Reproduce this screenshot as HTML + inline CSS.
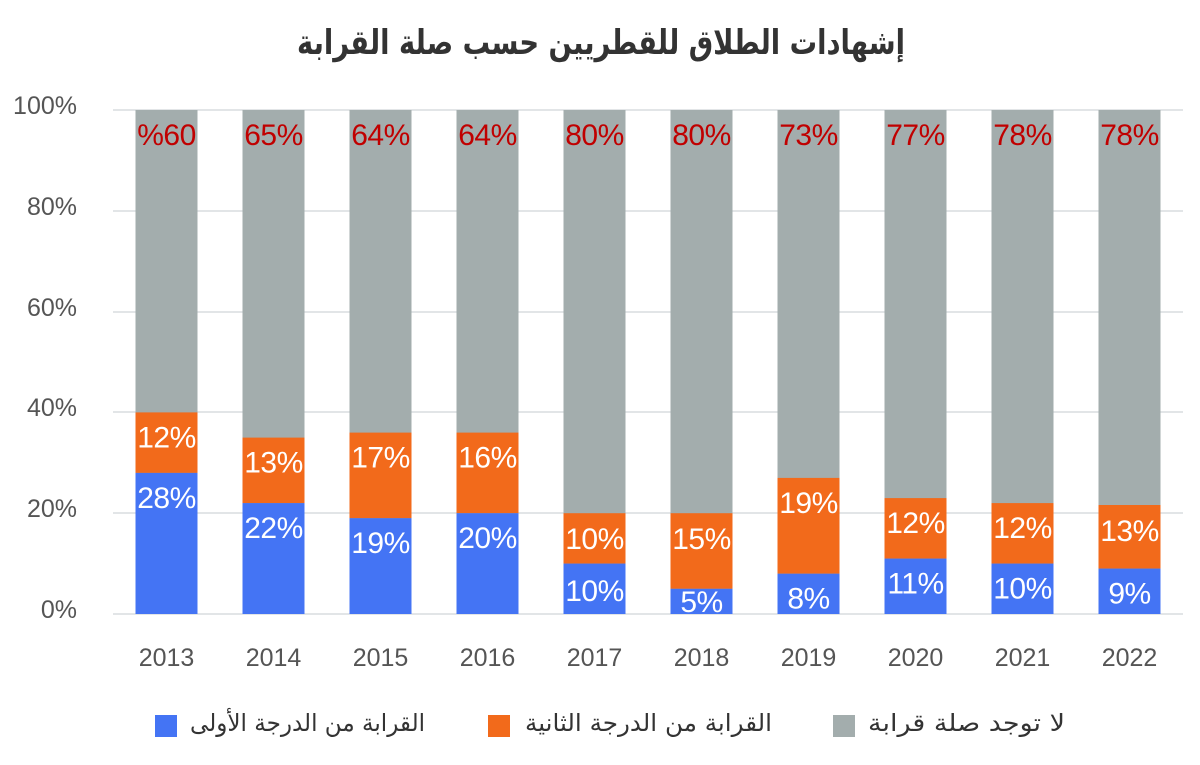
<!DOCTYPE html>
<html>
<head>
<meta charset="utf-8">
<style>
  html,body{margin:0;padding:0;background:#fff;}
  svg{display:block;}
  .ax{font-family:"Liberation Sans",sans-serif;font-size:25px;fill:#555555;}
  .lbw{font-family:"Liberation Sans",sans-serif;font-size:30px;fill:#ffffff;text-anchor:middle;letter-spacing:-0.5px;}
  .lbr{font-family:"Liberation Sans",sans-serif;font-size:30px;fill:#c00000;text-anchor:middle;letter-spacing:-0.5px;}
  .ar{font-family:"DejaVu Sans",sans-serif;fill:#333;}
</style>
</head>
<body>
<svg width="1200" height="765" viewBox="0 0 1200 765" xmlns="http://www.w3.org/2000/svg">
  <rect width="1200" height="765" fill="#fff"/>
  <text class="ar" x="601" y="54" font-size="34" font-weight="bold" text-anchor="middle" direction="rtl" textLength="608" lengthAdjust="spacingAndGlyphs">إشهادات الطلاق للقطريين حسب صلة القرابة</text>

  <g stroke="#e2e5e7" stroke-width="2">
    <line x1="113" y1="110" x2="1183" y2="110"/>
    <line x1="113" y1="211" x2="1183" y2="211"/>
    <line x1="113" y1="312" x2="1183" y2="312"/>
    <line x1="113" y1="412" x2="1183" y2="412"/>
    <line x1="113" y1="513" x2="1183" y2="513"/>
    <line x1="113" y1="614" x2="1183" y2="614"/>
  </g>

  <g class="ax" text-anchor="end">
    <text x="77" y="114">100%</text>
    <text x="77" y="215">80%</text>
    <text x="77" y="316">60%</text>
    <text x="77" y="416">40%</text>
    <text x="77" y="517">20%</text>
    <text x="77" y="618">0%</text>
  </g>

  <g>
    <rect x="135.5" y="110" width="62" height="504" fill="#a3adad"/>
    <rect x="135.5" y="412.4" width="62" height="60.5" fill="#f26a1b"/>
    <rect x="135.5" y="472.9" width="62" height="141.1" fill="#4474f4"/>
    <rect x="242.5" y="110" width="62" height="504" fill="#a3adad"/>
    <rect x="242.5" y="437.6" width="62" height="65.5" fill="#f26a1b"/>
    <rect x="242.5" y="503.1" width="62" height="110.9" fill="#4474f4"/>
    <rect x="349.5" y="110" width="62" height="504" fill="#a3adad"/>
    <rect x="349.5" y="432.6" width="62" height="85.6" fill="#f26a1b"/>
    <rect x="349.5" y="518.2" width="62" height="95.8" fill="#4474f4"/>
    <rect x="456.5" y="110" width="62" height="504" fill="#a3adad"/>
    <rect x="456.5" y="432.6" width="62" height="80.6" fill="#f26a1b"/>
    <rect x="456.5" y="513.2" width="62" height="100.8" fill="#4474f4"/>
    <rect x="563.5" y="110" width="62" height="504" fill="#a3adad"/>
    <rect x="563.5" y="513.2" width="62" height="50.4" fill="#f26a1b"/>
    <rect x="563.5" y="563.6" width="62" height="50.4" fill="#4474f4"/>
    <rect x="670.5" y="110" width="62" height="504" fill="#a3adad"/>
    <rect x="670.5" y="513.2" width="62" height="75.6" fill="#f26a1b"/>
    <rect x="670.5" y="588.8" width="62" height="25.2" fill="#4474f4"/>
    <rect x="777.5" y="110" width="62" height="504" fill="#a3adad"/>
    <rect x="777.5" y="477.9" width="62" height="95.8" fill="#f26a1b"/>
    <rect x="777.5" y="573.7" width="62" height="40.3" fill="#4474f4"/>
    <rect x="884.5" y="110" width="62" height="504" fill="#a3adad"/>
    <rect x="884.5" y="498.1" width="62" height="60.5" fill="#f26a1b"/>
    <rect x="884.5" y="558.6" width="62" height="55.4" fill="#4474f4"/>
    <rect x="991.5" y="110" width="62" height="504" fill="#a3adad"/>
    <rect x="991.5" y="503.1" width="62" height="60.5" fill="#f26a1b"/>
    <rect x="991.5" y="563.6" width="62" height="50.4" fill="#4474f4"/>
    <rect x="1098.5" y="110" width="62" height="504" fill="#a3adad"/>
    <rect x="1098.5" y="505" width="62" height="63.6" fill="#f26a1b"/>
    <rect x="1098.5" y="568.6" width="62" height="45.4" fill="#4474f4"/>
  </g>

  <g class="lbr">
    <text x="166.5" y="145">%60</text>
    <text x="273.5" y="145">65%</text>
    <text x="380.5" y="145">64%</text>
    <text x="487.5" y="145">64%</text>
    <text x="594.5" y="145">80%</text>
    <text x="701.5" y="145">80%</text>
    <text x="808.5" y="145">73%</text>
    <text x="915.5" y="145">77%</text>
    <text x="1022.5" y="145">78%</text>
    <text x="1129.5" y="145">78%</text>
  </g>

  <g class="lbw">
    <text x="166.5" y="447.4">12%</text>
    <text x="166.5" y="507.9">28%</text>
    <text x="273.5" y="472.6">13%</text>
    <text x="273.5" y="538.1">22%</text>
    <text x="380.5" y="467.6">17%</text>
    <text x="380.5" y="553.2">19%</text>
    <text x="487.5" y="467.6">16%</text>
    <text x="487.5" y="548.2">20%</text>
    <text x="594.5" y="549">10%</text>
    <text x="594.5" y="601">10%</text>
    <text x="701.5" y="549">15%</text>
    <text x="701.5" y="612">5%</text>
    <text x="808.5" y="512.9">19%</text>
    <text x="808.5" y="608.7">8%</text>
    <text x="915.5" y="533.1">12%</text>
    <text x="915.5" y="593.6">11%</text>
    <text x="1022.5" y="538.1">12%</text>
    <text x="1022.5" y="598.6">10%</text>
    <text x="1129.5" y="541">13%</text>
    <text x="1129.5" y="603.6">9%</text>
  </g>

  <g class="ax" text-anchor="middle">
    <text x="166.5" y="666">2013</text>
    <text x="273.5" y="666">2014</text>
    <text x="380.5" y="666">2015</text>
    <text x="487.5" y="666">2016</text>
    <text x="594.5" y="666">2017</text>
    <text x="701.5" y="666">2018</text>
    <text x="808.5" y="666">2019</text>
    <text x="915.5" y="666">2020</text>
    <text x="1022.5" y="666">2021</text>
    <text x="1129.5" y="666">2022</text>
  </g>

  <rect x="155" y="715" width="22" height="22" fill="#4474f4"/>
  <text class="ar" x="307.5" y="731" font-size="24" text-anchor="middle" direction="rtl" textLength="235" lengthAdjust="spacingAndGlyphs">القرابة من الدرجة الأولى</text>
  <rect x="488" y="715" width="22" height="22" fill="#f26a1b"/>
  <text class="ar" x="648.5" y="731" font-size="24" text-anchor="middle" direction="rtl" textLength="247" lengthAdjust="spacingAndGlyphs">القرابة من الدرجة الثانية</text>
  <rect x="833" y="715" width="22" height="22" fill="#a3adad"/>
  <text class="ar" x="966.5" y="731" font-size="24" text-anchor="middle" direction="rtl" textLength="197" lengthAdjust="spacingAndGlyphs">لا توجد صلة قرابة</text>
</svg>
</body>
</html>
